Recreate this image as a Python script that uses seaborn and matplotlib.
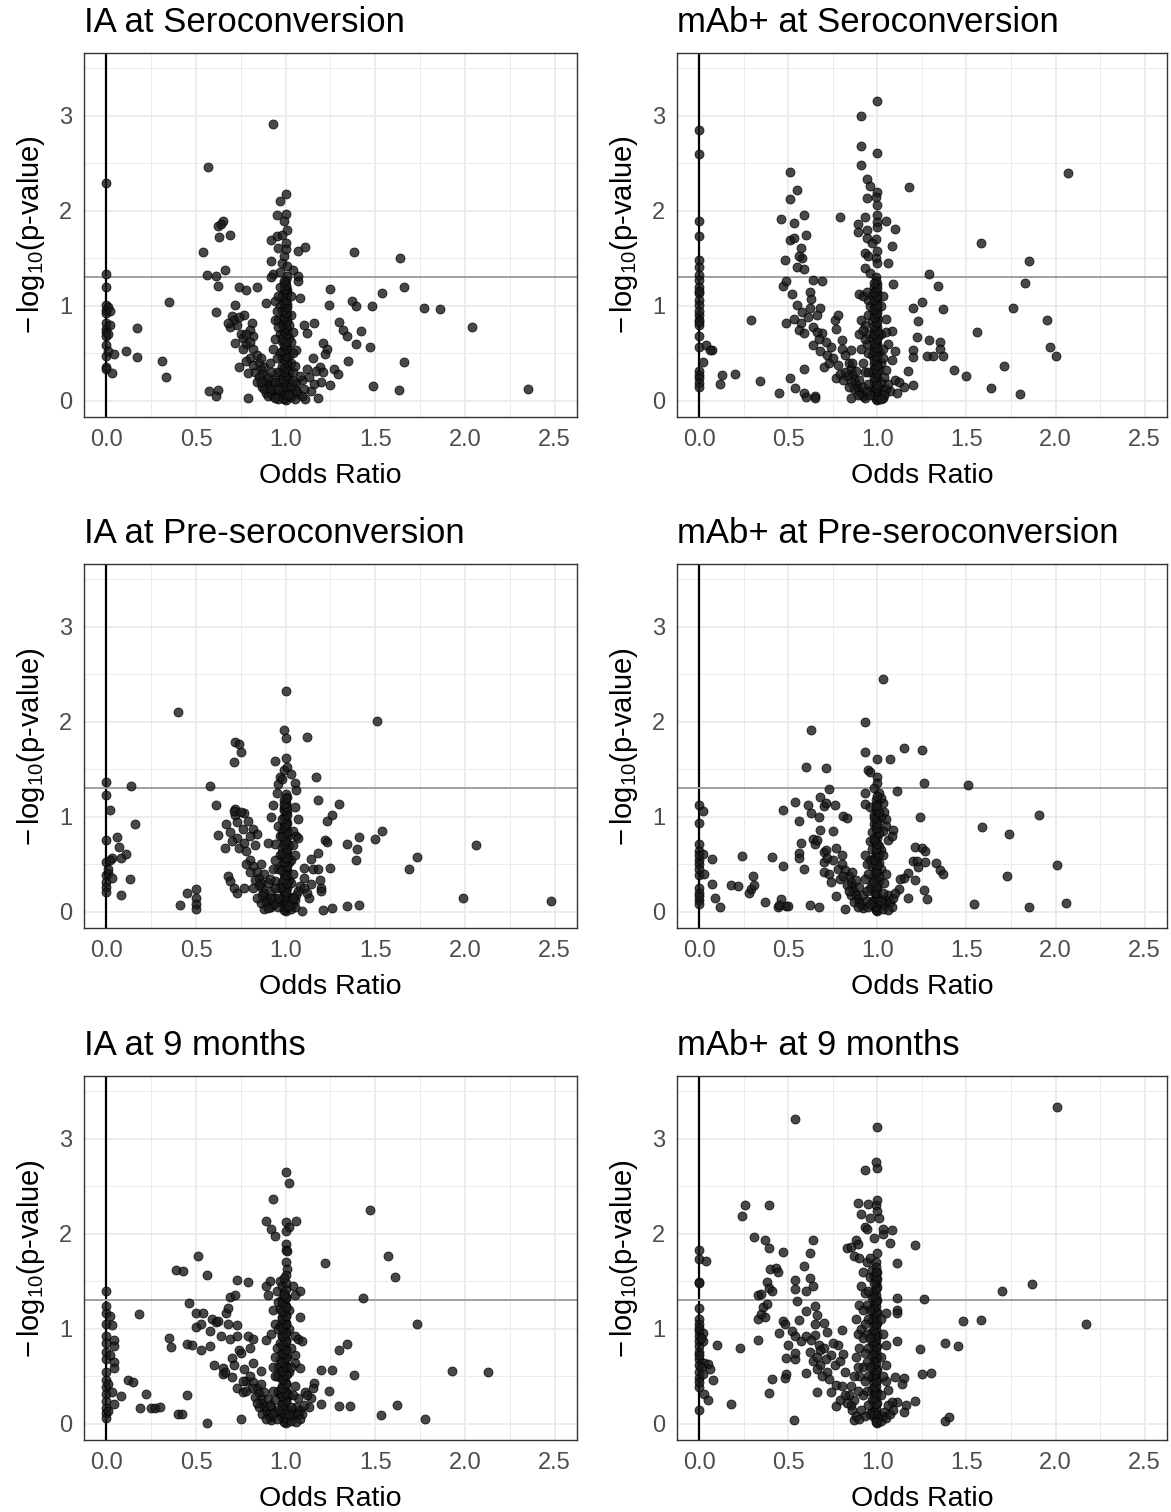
import pandas as pd
import matplotlib.pyplot as plt
import seaborn as sns

# (odds ratio, -log10 p) pairs
ia_sero = [
    (0, 2.29), (0, 1.34), (0, 1.20), (0, 1.01), (0, 0.96), (0, 0.92), (0, 0.82), (0, 0.76), (0, 0.72),
    (0, 0.68), (0, 0.59), (0, 0.47), (0, 0.36), (0, 0.34), (0.01, 0.99), (0.02, 0.80), (0.01, 0.70),
    (0.02, 0.95), (0.01, 0.52), (0.03, 0.29), (0.04, 0.49), (0.11, 0.52), (0.17, 0.77), (0.17, 0.46),
    (0.31, 0.42), (0.33, 0.25), (0.35, 1.04),
    (0.565, 2.46), (0.54, 1.57), (0.56, 1.32), (0.61, 1.31), (0.62, 1.21), (0.61, 0.93), (0.62, 1.84),
    (0.63, 1.72), (0.65, 1.89), (0.64, 1.86), (0.66, 1.38), (0.69, 1.75), (0.57, 0.10), (0.62, 0.11),
    (0.61, 0.05), (0.79, 0.03), (0.74, 1.20), (0.78, 1.17), (0.84, 1.20), (0.89, 1.03), (0.94, 1.05),
    (0.72, 1.01), (0.70, 0.89), (0.77, 0.90), (0.69, 0.78), (0.72, 0.61), (0.74, 0.36), (0.79, 0.29),
    (0.81, 0.82), (0.71, 0.85), (0.73, 0.80), (0.75, 0.70), (0.76, 0.66), (0.78, 0.60), (0.80, 0.75),
    (0.82, 0.68), (0.68, 0.82), (0.74, 0.88),
    (0.93, 2.91), (1.00, 2.18), (0.97, 2.10), (0.95, 1.96), (1.00, 1.97), (0.99, 1.89), (1.01, 1.80),
    (0.92, 1.69), (0.95, 1.73), (0.96, 1.61), (1.00, 1.66), (0.99, 1.52), (1.11, 1.62), (1.07, 1.58),
    (0.92, 1.47), (0.93, 1.34), (0.92, 1.30), (1.04, 1.38), (1.07, 1.31), (1.07, 1.26), (1.08, 1.08),
    (0.98, 1.75), (1.00, 1.60), (0.98, 1.45), (1.01, 1.42), (0.97, 1.36),
    (1.10, 0.80), (1.12, 0.71), (1.16, 0.82), (1.15, 0.45), (1.21, 0.61), (1.23, 0.55), (1.22, 0.49),
    (1.24, 1.01), (1.25, 1.18), (1.30, 0.83), (1.32, 0.75), (1.34, 0.68), (1.35, 0.42), (1.37, 1.05),
    (1.39, 1.00), (1.38, 1.57), (1.39, 0.60), (1.42, 0.73), (1.47, 0.57), (1.48, 1.00), (1.49, 0.16),
    (1.54, 1.13), (1.64, 1.50), (1.66, 1.20), (1.66, 0.41), (1.63, 0.11), (1.77, 0.98), (1.86, 0.97),
    (2.04, 0.78), (2.35, 0.12), (1.18, 0.03), (1.11, 0.02), (1.25, 0.17), (1.20, 0.20), (1.27, 0.33),
    (1.29, 0.28), (1.19, 0.36), (1.17, 0.31), (1.12, 0.33), (1.10, 0.13), (1.06, 0.54), (1.09, 0.22),
    (1.13, 0.25), (1.16, 0.18), (1.21, 0.30), (1.14, 0.10),
    (1.00, 0.01), (0.99, 0.03), (1.01, 0.05), (1.00, 0.08), (0.98, 0.10), (1.02, 0.12), (1.00, 0.15),
    (0.99, 0.18), (1.01, 0.21), (1.00, 0.24), (0.98, 0.27), (1.02, 0.30), (1.00, 0.33), (0.99, 0.36),
    (1.01, 0.39), (1.00, 0.42), (0.98, 0.45), (1.02, 0.48), (1.00, 0.51), (0.99, 0.54), (1.01, 0.57),
    (1.00, 0.60), (0.98, 0.63), (1.02, 0.66), (1.00, 0.69), (0.99, 0.72), (1.01, 0.75), (1.00, 0.78),
    (0.98, 0.81), (1.00, 0.84), (0.99, 0.87), (1.01, 0.90), (1.00, 0.93), (0.99, 0.96), (1.00, 0.99),
    (1.01, 1.02), (0.99, 1.05), (1.00, 1.08), (1.00, 1.11), (0.99, 1.14), (1.01, 1.17), (1.00, 1.20),
    (0.99, 1.23), (1.00, 1.27), (1.01, 1.31), (0.97, 0.50), (0.97, 0.70), (0.97, 0.30), (1.03, 0.40),
    (1.03, 0.62), (0.96, 0.20), (0.96, 0.85), (1.03, 0.90), (0.97, 1.00), (1.02, 0.22),
    (0.99, 0.02), (1.00, 0.06), (0.98, 0.09), (1.01, 0.13), (0.99, 0.16), (1.00, 0.20), (0.98, 0.23),
    (1.01, 0.26), (0.99, 0.30), (1.00, 0.34), (0.98, 0.37), (1.01, 0.41), (0.99, 0.44), (1.00, 0.47),
    (0.98, 0.52), (1.01, 0.55), (0.99, 0.59), (1.00, 0.62), (0.98, 0.66), (1.01, 0.70), (0.99, 0.74),
    (1.00, 0.77), (0.98, 0.80), (1.01, 0.84), (0.99, 0.88), (1.00, 0.92), (0.98, 0.95), (1.01, 0.99),
    (0.99, 1.03), (1.00, 1.06), (0.98, 1.10), (1.01, 1.14), (0.99, 1.18), (1.00, 1.22), (0.99, 1.26),
    (0.80, 0.62), (0.82, 0.55), (0.84, 0.48), (0.85, 0.40), (0.86, 0.33), (0.87, 0.28), (0.88, 0.22),
    (0.89, 0.18), (0.90, 0.14), (0.91, 0.10), (0.92, 0.07), (0.93, 0.05), (0.86, 0.45), (0.88, 0.36),
    (0.90, 0.25), (0.92, 0.18), (0.94, 0.12), (0.83, 0.30), (0.85, 0.25), (0.87, 0.15), (0.89, 0.08),
    (0.78, 0.70), (0.80, 0.45), (0.82, 0.38), (0.84, 0.20), (0.76, 0.55), (0.78, 0.42), (0.95, 0.30),
    (0.95, 0.45), (0.93, 0.55), (0.94, 0.65), (0.96, 0.78), (0.95, 0.95), (0.94, 0.85), (0.96, 1.10),
    (0.97, 1.20), (0.91, 0.40), (0.92, 0.30), (0.93, 0.22), (0.95, 0.05), (0.96, 0.02),
    (0.88, 0.12), (0.90, 0.05), (0.92, 0.12), (0.94, 0.20), (0.94, 0.03), (0.96, 0.12), (0.86, 0.20),
    (1.03, 0.04), (1.04, 0.09), (1.05, 0.14), (1.06, 0.19), (1.07, 0.07), (1.08, 0.26), (1.04, 0.30),
    (1.05, 0.37), (1.04, 0.50), (1.04, 0.72), (1.02, 0.80), (1.03, 1.10), (1.09, 0.05), (1.06, 0.10),
    (1.05, 0.02), (1.03, 0.16), (1.04, 0.21), (1.02, 0.06),
]

mab_sero = [
    (0, 2.85), (0, 2.60), (0, 1.89), (0, 1.73), (0, 1.48), (0, 1.41), (0, 1.32), (0, 1.27), (0, 1.20),
    (0, 1.13), (0, 1.06), (0, 1.01), (0, 0.90), (0, 0.85), (0, 0.80), (0, 0.68), (0, 0.57), (0, 0.31),
    (0, 0.27), (0, 0.24), (0, 0.19), (0, 0.15), (0, 1.16), (0, 0.95), (0, 0.83),
    (0.04, 0.59), (0.07, 0.54), (0.06, 0.53), (0.02, 0.41), (0.13, 0.27), (0.12, 0.18), (0.20, 0.28),
    (0.29, 0.85), (0.34, 0.21), (0.45, 0.08), (0.51, 0.24), (0.54, 0.14), (0.59, 0.08), (0.60, 0.04),
    (0.65, 0.05), (0.65, 0.03),
    (0.46, 1.91), (0.51, 2.41), (0.51, 2.12), (0.55, 2.22), (0.53, 1.87), (0.59, 1.96), (0.51, 1.69),
    (0.53, 1.71), (0.60, 1.75), (0.57, 1.61), (0.48, 1.48), (0.58, 1.50), (0.55, 1.41), (0.59, 1.39),
    (0.56, 1.52), (0.47, 1.21), (0.49, 1.26), (0.52, 1.12), (0.49, 0.82), (0.53, 0.86), (0.55, 1.01),
    (0.58, 0.94), (0.57, 0.82), (0.56, 0.75), (0.59, 0.71), (0.59, 0.33), (0.62, 1.15), (0.63, 1.07),
    (0.62, 0.98), (0.64, 1.27), (0.69, 1.26), (0.68, 0.98), (0.79, 1.94), (0.64, 0.78), (0.69, 0.71),
    (0.64, 0.59), (0.68, 0.52), (0.70, 0.36), (0.74, 0.57), (0.76, 0.85), (0.78, 0.90), (0.77, 0.76),
    (0.80, 0.64), (0.73, 0.40), (0.77, 0.24), (0.85, 0.54), (0.85, 0.03), (0.93, 0.03), (0.66, 0.72),
    (0.67, 0.65), (0.71, 0.62), (0.72, 0.48), (0.75, 0.45), (0.78, 0.38), (0.61, 0.88), (0.66, 0.90),
    (1.00, 3.16), (0.91, 3.00), (0.91, 2.68), (1.00, 2.61), (0.91, 2.48), (0.94, 2.34), (0.96, 2.26),
    (1.18, 2.25), (1.00, 2.20), (0.94, 2.13), (0.99, 2.15), (1.00, 2.06), (2.07, 2.40), (0.93, 1.94),
    (1.00, 1.96), (0.89, 1.86), (0.89, 1.78), (0.94, 1.80), (1.05, 1.89), (1.10, 1.81), (0.94, 1.71),
    (0.99, 1.70), (1.08, 1.63), (0.93, 1.56), (0.99, 1.50), (1.06, 1.45), (0.93, 1.40), (1.00, 1.88),
    (1.00, 1.83), (0.97, 1.66), (1.00, 1.58), (0.95, 1.52), (1.00, 1.45), (0.96, 1.35), (0.99, 1.30),
    (1.58, 1.66), (1.85, 1.47), (1.29, 1.34), (1.83, 1.24), (1.34, 1.21), (1.09, 1.23), (0.90, 1.12),
    (0.95, 1.06), (1.03, 1.10), (1.25, 1.04), (1.20, 0.98), (1.37, 0.97), (1.76, 0.98), (1.05, 0.86),
    (1.23, 0.84), (1.95, 0.85), (1.08, 0.74), (1.56, 0.72), (1.22, 0.67), (1.29, 0.64), (1.35, 0.62),
    (1.35, 0.55), (1.28, 0.47), (1.31, 0.47), (1.37, 0.47), (1.20, 0.54), (1.20, 0.46), (1.97, 0.57),
    (2.00, 0.47), (1.43, 0.32), (1.50, 0.26), (1.71, 0.37), (1.64, 0.14), (1.80, 0.07), (1.17, 0.31),
    (1.20, 0.17), (1.15, 0.15), (1.10, 0.22), (1.10, 0.52), (1.08, 0.43), (1.12, 0.20), (1.07, 0.10),
    (1.11, 0.08),
    (1.00, 0.01), (0.99, 0.03), (0.98, 0.06), (1.00, 0.09), (0.97, 0.12), (1.01, 0.15), (0.99, 0.18),
    (0.98, 0.21), (1.00, 0.24), (0.99, 0.27), (0.97, 0.30), (1.01, 0.33), (0.99, 0.36), (0.98, 0.39),
    (1.00, 0.42), (0.99, 0.45), (0.97, 0.48), (1.01, 0.51), (0.99, 0.54), (0.98, 0.57), (1.00, 0.60),
    (0.99, 0.63), (0.97, 0.66), (1.01, 0.69), (0.99, 0.72), (0.98, 0.75), (1.00, 0.78), (0.99, 0.81),
    (0.97, 0.84), (1.00, 0.87), (0.99, 0.90), (0.98, 0.93), (1.00, 0.96), (0.99, 0.99), (0.98, 1.02),
    (1.00, 1.05), (0.99, 1.08), (0.97, 1.11), (1.00, 1.14), (0.99, 1.17), (0.98, 1.20), (1.00, 1.23),
    (0.99, 1.26), (0.95, 0.50), (0.95, 0.70), (0.95, 0.90), (0.96, 1.00), (0.94, 0.60), (0.93, 0.80),
    (0.92, 1.10), (0.94, 1.15), (1.02, 0.40), (1.02, 0.20), (1.02, 0.70), (1.03, 0.55), (1.02, 1.00),
    (0.99, 0.02), (1.00, 0.05), (0.98, 0.10), (0.99, 0.14), (1.00, 0.17), (0.98, 0.25), (1.00, 0.29),
    (0.98, 0.34), (1.00, 0.38), (0.98, 0.43), (1.00, 0.47), (0.98, 0.52), (1.00, 0.56), (0.98, 0.61),
    (1.00, 0.65), (0.98, 0.70), (1.00, 0.74), (0.98, 0.79), (1.00, 0.83), (0.98, 0.88), (1.00, 0.92),
    (0.98, 0.97), (1.00, 1.01), (0.98, 1.06), (1.00, 1.10), (0.98, 1.15), (1.00, 1.19), (0.98, 1.24),
    (0.80, 0.55), (0.82, 0.48), (0.84, 0.40), (0.85, 0.33), (0.86, 0.28), (0.87, 0.23), (0.88, 0.18),
    (0.89, 0.14), (0.90, 0.10), (0.91, 0.07), (0.92, 0.05), (0.86, 0.40), (0.88, 0.31), (0.90, 0.22),
    (0.92, 0.15), (0.94, 0.10), (0.83, 0.26), (0.85, 0.20), (0.87, 0.12), (0.89, 0.06), (0.82, 0.30),
    (0.84, 0.15), (0.79, 0.28), (0.81, 0.22), (0.93, 0.30), (0.92, 0.40), (0.91, 0.55), (0.93, 0.65),
    (0.90, 0.70), (0.92, 0.75), (0.91, 0.85), (0.95, 0.30), (0.95, 0.18), (0.96, 0.06),
    (1.03, 0.03), (1.04, 0.08), (1.05, 0.13), (1.06, 0.18), (1.04, 0.25), (1.05, 0.32), (1.03, 0.45),
    (1.06, 0.60), (1.05, 0.72), (1.04, 0.06), (1.02, 0.02),
]

ia_pre = [
    (0, 1.37), (0, 1.23), (0, 0.76), (0, 0.52), (0, 0.39), (0, 0.31), (0, 0.26), (0, 0.21), (0.02, 1.07),
    (0.03, 0.57), (0.01, 0.41), (0.03, 0.36), (0.06, 0.79), (0.07, 0.68), (0.08, 0.57), (0.11, 0.61),
    (0.08, 0.18), (0.13, 0.35), (0.14, 1.33), (0.16, 0.92), (0.02, 0.55), (0.01, 0.45),
    (0.40, 2.10), (0.41, 0.07), (0.45, 0.20), (0.50, 0.24), (0.50, 0.15), (0.50, 0.08), (0.50, 0.03),
    (0.58, 1.33), (0.61, 1.12), (0.62, 0.81), (0.67, 0.93), (0.69, 0.84), (0.66, 0.67), (0.68, 0.38),
    (0.69, 0.33), (0.71, 0.25), (0.73, 0.20), (0.77, 0.25), (0.71, 1.58), (0.72, 1.79), (0.74, 1.77),
    (0.75, 1.68), (0.72, 1.08), (0.72, 1.02), (0.77, 1.04), (0.79, 0.96), (0.76, 0.87), (0.73, 0.78),
    (0.70, 0.75), (0.74, 0.67), (0.77, 0.73), (0.78, 0.64), (0.82, 0.87), (0.84, 0.82), (0.94, 0.71),
    (0.94, 1.59), (0.99, 1.91), (1.00, 1.83), (1.00, 2.33), (1.12, 1.84), (1.00, 1.62), (0.99, 1.49),
    (1.01, 1.52), (0.97, 1.42), (1.17, 1.42), (1.05, 1.36), (1.06, 1.28), (1.18, 1.18), (1.30, 1.14),
    (1.26, 1.02), (1.23, 0.96), (1.07, 0.98), (1.51, 2.01), (1.54, 0.85), (1.50, 0.77), (1.41, 0.79),
    (1.40, 0.66), (1.39, 0.55), (1.34, 0.71), (1.22, 0.76), (1.23, 0.74), (1.18, 0.62), (1.14, 0.56),
    (1.15, 0.45), (1.18, 0.45), (1.25, 0.46), (1.19, 0.34), (1.20, 0.25), (1.20, 0.22), (1.14, 0.29),
    (1.13, 0.15), (1.10, 0.46), (1.10, 0.36), (1.09, 0.01), (1.21, 0.02), (1.26, 0.04), (1.34, 0.06),
    (1.41, 0.07), (1.69, 0.45), (1.73, 0.58), (2.06, 0.70), (1.99, 0.15), (2.48, 0.12), (0.94, 0.33),
    (0.88, 0.03), (0.86, 0.09), (0.71, 1.06), (0.75, 1.05), (0.73, 0.95), (0.80, 0.80), (0.83, 0.70),
    (0.90, 0.72), (0.92, 1.00), (0.93, 1.12), (0.95, 1.25), (0.96, 1.35), (0.98, 1.40), (1.03, 1.45),
    (1.05, 1.10), (1.04, 0.85), (1.06, 0.80), (1.07, 0.78),
    (1.00, 0.01), (0.99, 0.04), (1.01, 0.07), (1.00, 0.10), (0.98, 0.13), (1.02, 0.16), (1.00, 0.19),
    (0.99, 0.22), (1.01, 0.25), (1.00, 0.28), (0.98, 0.31), (1.02, 0.34), (1.00, 0.37), (0.99, 0.40),
    (1.01, 0.43), (1.00, 0.46), (0.98, 0.49), (1.02, 0.52), (1.00, 0.55), (0.99, 0.58), (1.01, 0.61),
    (1.00, 0.64), (0.98, 0.67), (1.02, 0.70), (1.00, 0.73), (0.99, 0.76), (1.01, 0.79), (1.00, 0.82),
    (0.98, 0.85), (1.00, 0.88), (0.99, 0.91), (1.01, 0.94), (1.00, 0.97), (0.99, 1.00), (1.00, 1.03),
    (1.01, 1.06), (0.99, 1.09), (1.00, 1.12), (1.00, 1.15), (0.99, 1.18), (1.01, 1.21), (1.00, 1.24),
    (0.97, 0.60), (0.97, 0.80), (0.96, 0.45), (0.97, 0.25), (0.96, 0.90), (1.03, 0.30), (1.03, 0.55),
    (1.03, 0.10),
    (0.99, 0.02), (1.00, 0.05), (0.98, 0.09), (1.01, 0.12), (0.99, 0.17), (1.00, 0.21), (0.98, 0.26),
    (1.01, 0.30), (0.99, 0.35), (1.00, 0.39), (0.98, 0.44), (1.01, 0.48), (0.99, 0.53), (1.00, 0.57),
    (0.98, 0.62), (1.01, 0.66), (0.99, 0.71), (1.00, 0.75), (0.98, 0.80), (1.01, 0.84), (0.99, 0.89),
    (1.00, 0.93), (0.98, 0.98), (1.01, 1.02), (0.99, 1.07), (1.00, 1.10), (0.99, 1.14), (1.00, 1.20),
    (0.80, 0.55), (0.82, 0.48), (0.84, 0.42), (0.85, 0.36), (0.86, 0.30), (0.87, 0.25), (0.88, 0.20),
    (0.89, 0.15), (0.90, 0.11), (0.91, 0.08), (0.92, 0.05), (0.86, 0.50), (0.88, 0.40), (0.90, 0.30),
    (0.92, 0.22), (0.94, 0.15), (0.83, 0.34), (0.85, 0.28), (0.87, 0.18), (0.89, 0.10), (0.78, 0.50),
    (0.80, 0.42), (0.82, 0.25), (0.84, 0.15), (0.93, 0.45), (0.94, 0.55), (0.95, 0.10), (0.96, 0.05),
    (0.91, 0.35), (0.93, 0.08), (0.94, 0.25), (0.96, 0.15), (0.90, 0.04), (0.92, 0.15),
    (1.03, 0.03), (1.04, 0.08), (1.05, 0.13), (1.06, 0.18), (1.07, 0.22), (1.08, 0.27), (1.05, 0.05),
    (1.10, 0.25), (1.12, 0.20), (1.04, 0.40), (1.05, 0.60), (1.04, 0.70), (1.02, 0.06), (1.04, 0.15),
]

mab_pre = [
    (0, 1.12), (0, 0.94), (0, 0.71), (0, 0.64), (0, 0.55), (0, 0.50), (0, 0.39), (0, 0.25), (0, 0.20),
    (0, 0.13), (0, 0.08), (0, 0.60), (0, 0.45), (0, 0.17), (0.02, 1.06), (0.02, 0.61), (0.03, 0.40),
    (0.07, 0.56), (0.07, 0.29), (0.09, 0.15), (0.12, 0.05), (0.18, 0.28), (0.22, 0.27), (0.24, 0.59),
    (0.28, 0.20), (0.29, 0.24), (0.30, 0.38), (0.31, 0.28), (0.37, 0.10), (0.41, 0.58), (0.44, 0.05),
    (0.46, 0.14), (0.47, 0.48), (0.47, 1.07), (0.49, 0.06), (0.45, 0.07), (0.50, 0.06),
    (0.56, 0.62), (0.56, 0.57), (0.59, 0.45), (0.57, 0.73), (0.56, 0.96), (0.54, 1.16), (0.60, 1.53),
    (0.61, 1.13), (0.62, 0.07), (0.67, 0.05), (0.63, 1.04), (0.64, 0.77), (0.65, 0.71), (0.67, 1.00),
    (0.68, 1.21), (0.70, 1.11), (0.71, 1.15), (0.76, 1.13), (0.63, 1.91), (0.71, 1.51), (0.73, 1.29),
    (0.68, 0.86), (0.75, 0.85), (0.70, 0.63), (0.70, 0.52), (0.70, 0.42), (0.72, 0.57), (0.75, 0.55),
    (0.77, 0.67), (0.81, 1.01), (0.83, 0.99), (0.82, 0.03), (0.77, 0.17), (0.66, 0.76), (0.71, 0.65),
    (0.73, 0.40), (0.74, 0.32), (0.78, 0.45), (0.80, 0.60), (0.79, 0.35),
    (0.93, 2.00), (1.03, 2.45), (0.93, 1.68), (1.00, 1.61), (1.07, 1.61), (1.15, 1.73), (1.25, 1.70),
    (0.95, 1.49), (0.96, 1.47), (1.00, 1.42), (1.00, 1.36), (1.26, 1.36), (1.51, 1.34), (1.11, 1.27),
    (0.93, 1.25), (0.93, 1.14), (1.03, 1.15), (1.04, 1.05), (1.05, 0.98), (1.09, 0.86), (1.06, 0.76),
    (1.24, 1.00), (1.91, 1.02), (1.59, 0.89), (1.74, 0.82), (1.21, 0.68), (1.25, 0.67), (1.27, 0.64),
    (1.20, 0.54), (1.22, 0.54), (1.23, 0.47), (1.27, 0.52), (1.33, 0.51), (1.35, 0.44), (1.37, 0.40),
    (1.17, 0.41), (1.15, 0.36), (1.21, 0.34), (1.13, 0.35), (1.12, 0.24), (1.17, 0.15), (1.26, 0.23),
    (1.28, 0.14), (1.73, 0.38), (2.01, 0.49), (1.54, 0.08), (1.85, 0.05), (2.06, 0.09), (1.08, 0.80),
    (1.05, 0.90), (0.98, 1.30), (1.01, 1.25), (0.96, 1.10), (1.02, 1.20),
    (1.00, 0.01), (0.99, 0.03), (0.98, 0.06), (1.00, 0.09), (0.97, 0.12), (1.01, 0.15), (0.99, 0.18),
    (0.98, 0.21), (1.00, 0.24), (0.99, 0.27), (0.97, 0.30), (1.01, 0.33), (0.99, 0.36), (0.98, 0.39),
    (1.00, 0.42), (0.99, 0.45), (0.97, 0.48), (1.01, 0.51), (0.99, 0.54), (0.98, 0.57), (1.00, 0.60),
    (0.99, 0.63), (0.97, 0.66), (1.01, 0.69), (0.99, 0.72), (0.98, 0.75), (1.00, 0.78), (0.99, 0.81),
    (0.97, 0.84), (1.00, 0.87), (0.99, 0.90), (0.98, 0.93), (1.00, 0.96), (0.99, 0.99), (0.98, 1.02),
    (1.00, 1.05), (0.99, 1.08), (1.00, 1.14), (0.99, 1.18), (1.00, 1.22), (0.96, 0.55), (0.96, 0.75),
    (0.95, 0.40), (0.96, 0.25), (1.02, 0.45), (1.02, 0.65), (1.03, 0.85), (1.02, 1.00),
    (0.99, 0.02), (1.00, 0.05), (0.98, 0.10), (1.01, 0.13), (0.99, 0.20), (1.00, 0.26), (0.98, 0.32),
    (1.01, 0.38), (0.99, 0.43), (1.00, 0.49), (0.98, 0.55), (1.01, 0.60), (0.99, 0.66), (1.00, 0.71),
    (0.98, 0.77), (1.01, 0.83), (0.99, 0.88), (1.00, 0.94), (0.98, 0.99), (1.01, 1.05), (0.99, 1.11),
    (0.80, 0.50), (0.82, 0.44), (0.84, 0.38), (0.85, 0.32), (0.86, 0.27), (0.87, 0.22), (0.88, 0.18),
    (0.89, 0.14), (0.90, 0.10), (0.91, 0.07), (0.92, 0.04), (0.86, 0.42), (0.88, 0.34), (0.90, 0.26),
    (0.92, 0.18), (0.94, 0.12), (0.83, 0.28), (0.85, 0.18), (0.87, 0.10), (0.89, 0.05), (0.81, 0.38),
    (0.84, 0.22), (0.93, 0.35), (0.94, 0.50), (0.95, 0.05), (0.93, 0.60), (0.94, 0.22), (0.96, 0.08),
    (1.03, 0.03), (1.04, 0.08), (1.05, 0.13), (1.06, 0.18), (1.07, 0.10), (1.08, 0.05), (1.04, 0.30),
    (1.05, 0.40), (1.09, 0.15), (1.10, 0.20), (1.03, 0.60), (1.06, 0.02), (1.02, 0.12), (1.03, 0.20),
]

ia_9m = [
    (0, 1.40), (0, 1.24), (0, 1.17), (0, 1.05), (0, 0.92), (0, 0.85), (0, 0.76), (0, 0.68), (0, 0.55),
    (0, 0.46), (0, 0.39), (0, 0.31), (0, 0.24), (0, 0.17), (0, 0.11), (0, 0.06), (0.02, 1.13),
    (0.03, 1.04), (0.04, 0.88), (0.04, 0.82), (0.04, 0.65), (0.04, 0.59), (0.03, 0.34), (0.04, 0.21),
    (0.01, 0.42), (0.01, 0.14), (0.02, 0.72),
    (0.08, 0.29), (0.12, 0.46), (0.15, 0.44), (0.18, 1.16), (0.19, 0.17), (0.22, 0.31), (0.25, 0.17),
    (0.27, 0.17), (0.30, 0.18), (0.35, 0.90), (0.36, 0.81), (0.39, 1.62), (0.43, 1.61), (0.40, 0.10),
    (0.42, 0.10), (0.45, 0.84), (0.45, 0.30), (0.46, 1.27), (0.48, 0.83), (0.51, 1.77), (0.50, 1.17),
    (0.50, 1.02), (0.53, 1.05), (0.54, 1.17), (0.53, 0.78), (0.56, 1.57), (0.58, 0.82), (0.56, 0.01),
    (0.58, 0.98), (0.59, 1.10), (0.61, 1.07), (0.62, 1.08), (0.60, 0.62), (0.64, 0.92), (0.65, 0.59),
    (0.65, 0.52), (0.67, 1.17), (0.68, 1.22), (0.68, 1.05), (0.69, 1.33), (0.72, 1.36), (0.73, 1.51),
    (0.79, 1.49), (0.69, 0.89), (0.70, 0.69), (0.70, 0.49), (0.73, 1.04), (0.73, 0.92), (0.74, 0.78),
    (0.75, 0.75), (0.73, 0.38), (0.76, 0.34), (0.75, 0.05), (0.79, 0.92), (0.80, 0.80), (0.82, 0.89),
    (0.82, 0.64), (0.86, 0.56), (0.89, 0.88), (0.66, 0.55), (0.71, 0.62), (0.77, 0.58), (0.78, 0.45),
    (0.89, 2.14), (0.92, 2.05), (0.94, 1.98), (0.93, 2.37), (1.00, 2.65), (1.02, 2.53), (1.00, 2.12),
    (1.02, 2.07), (1.06, 2.14), (1.00, 2.03), (1.00, 1.89), (1.00, 1.83), (1.01, 1.82), (1.00, 1.70),
    (1.01, 1.63), (1.00, 1.57), (0.97, 1.50), (0.91, 1.50), (0.89, 1.45), (0.90, 1.36), (1.04, 1.45),
    (1.08, 1.40), (1.05, 1.36), (1.22, 1.69), (1.47, 2.25), (1.43, 1.32), (1.57, 1.77), (1.61, 1.55),
    (1.73, 1.05), (1.08, 1.12), (1.05, 0.92), (1.07, 0.89), (1.09, 0.87), (1.05, 0.64), (1.08, 0.59),
    (1.05, 0.73), (1.34, 0.84), (1.30, 0.78), (1.20, 0.57), (1.26, 0.57), (1.38, 0.51), (1.93, 0.56),
    (2.13, 0.55), (1.16, 0.43), (1.15, 0.38), (1.24, 0.35), (1.11, 0.34), (1.14, 0.27), (1.07, 0.27),
    (1.13, 0.18), (1.20, 0.21), (1.30, 0.19), (1.36, 0.19), (1.53, 0.09), (1.62, 0.20), (1.78, 0.05),
    (1.08, 0.15), (1.09, 0.10), (0.95, 1.40), (0.96, 1.28), (0.98, 1.45), (0.93, 1.20), (0.94, 1.05),
    (0.92, 0.95),
    (1.00, 0.01), (0.99, 0.04), (0.98, 0.07), (1.00, 0.10), (0.97, 0.13), (1.01, 0.16), (0.99, 0.19),
    (0.98, 0.22), (1.00, 0.25), (0.99, 0.28), (0.97, 0.31), (1.01, 0.34), (0.99, 0.37), (0.98, 0.40),
    (1.00, 0.43), (0.99, 0.46), (0.97, 0.49), (1.01, 0.52), (0.99, 0.55), (0.98, 0.58), (1.00, 0.61),
    (0.99, 0.64), (0.97, 0.67), (1.01, 0.70), (0.99, 0.73), (0.98, 0.76), (1.00, 0.79), (0.99, 0.82),
    (0.97, 0.85), (1.00, 0.88), (0.99, 0.91), (0.98, 0.94), (1.00, 0.97), (0.99, 1.00), (0.97, 1.03),
    (1.00, 1.06), (0.99, 1.09), (0.98, 1.12), (1.00, 1.15), (0.99, 1.18), (0.97, 1.21), (1.00, 1.24),
    (0.99, 1.27), (0.98, 1.31), (1.00, 1.34), (0.99, 1.38), (1.00, 1.42), (0.96, 0.60), (0.95, 0.80),
    (0.96, 1.00), (0.95, 0.50), (0.94, 0.70), (0.96, 0.35), (1.02, 0.30), (1.02, 0.55), (1.03, 0.80),
    (1.02, 1.00), (1.02, 1.20),
    (0.99, 0.02), (1.00, 0.06), (0.98, 0.11), (1.00, 0.15), (0.98, 0.20), (1.00, 0.24), (0.98, 0.29),
    (1.00, 0.33), (0.98, 0.38), (1.00, 0.42), (0.98, 0.47), (1.00, 0.51), (0.98, 0.56), (1.00, 0.60),
    (0.98, 0.65), (1.00, 0.69), (0.98, 0.74), (1.00, 0.78), (0.98, 0.83), (1.00, 0.87), (0.98, 0.92),
    (1.00, 0.96), (0.98, 1.01), (1.00, 1.05), (0.98, 1.10), (1.00, 1.14), (0.98, 1.19), (1.00, 1.23),
    (0.98, 1.28), (1.00, 1.32), (0.99, 1.36), (1.00, 1.48), (0.99, 1.53),
    (0.80, 0.50), (0.82, 0.44), (0.84, 0.38), (0.85, 0.32), (0.86, 0.27), (0.87, 0.22), (0.88, 0.18),
    (0.89, 0.14), (0.90, 0.10), (0.91, 0.07), (0.92, 0.04), (0.86, 0.42), (0.88, 0.34), (0.90, 0.26),
    (0.92, 0.18), (0.94, 0.12), (0.83, 0.28), (0.85, 0.18), (0.87, 0.10), (0.89, 0.05), (0.81, 0.38),
    (0.84, 0.22), (0.93, 0.35), (0.94, 0.50), (0.95, 0.05), (0.93, 0.60), (0.78, 0.35), (0.76, 0.45),
    (0.94, 0.25), (0.96, 0.15), (0.93, 0.10), (0.91, 0.20),
    (1.03, 0.03), (1.04, 0.08), (1.05, 0.13), (1.06, 0.18), (1.07, 0.10), (1.08, 0.05), (1.04, 0.30),
    (1.05, 0.40), (1.10, 0.20), (1.03, 0.60), (1.06, 0.02), (1.12, 0.30), (1.02, 0.10), (1.03, 0.18),
]

mab_9m = [
    (0, 1.83), (0, 1.74), (0, 1.49), (0, 1.22), (0, 1.10), (0, 1.05), (0, 0.98), (0, 0.92), (0, 0.87),
    (0, 0.82), (0, 0.76), (0, 0.68), (0, 0.62), (0, 0.55), (0, 0.48), (0, 0.39), (0, 0.15), (0, 1.48),
    (0, 1.01), (0, 0.72), (0, 0.44), (0.04, 1.71), (0.02, 0.96), (0.02, 0.87), (0.03, 0.64),
    (0.05, 0.63), (0.06, 0.58), (0.08, 0.46), (0.03, 0.31), (0.05, 0.25), (0.10, 0.83), (0.01, 0.90),
    (0.01, 0.60), (0.02, 0.52), (0.18, 0.21), (0.23, 0.80),
    (0.24, 2.19), (0.26, 2.30), (0.31, 1.97), (0.33, 1.36), (0.33, 1.10), (0.33, 0.88), (0.35, 1.16),
    (0.37, 1.93), (0.39, 2.30), (0.39, 1.85), (0.40, 1.63), (0.43, 1.64), (0.44, 1.60), (0.38, 1.49),
    (0.39, 1.43), (0.41, 1.40), (0.35, 1.37), (0.36, 1.23), (0.38, 1.26), (0.37, 1.12), (0.45, 0.96),
    (0.47, 1.81), (0.47, 1.08), (0.48, 1.05), (0.50, 0.83), (0.49, 0.69), (0.49, 0.52), (0.48, 0.48),
    (0.41, 0.47), (0.39, 0.32), (0.52, 0.98), (0.54, 0.92), (0.53, 0.04), (0.54, 0.68), (0.54, 0.75),
    (0.57, 0.87), (0.55, 1.29), (0.54, 1.51), (0.54, 1.42), (0.56, 1.09), (0.60, 0.54), (0.60, 1.40),
    (0.59, 1.66), (0.62, 1.80), (0.62, 1.54), (0.64, 1.45), (0.64, 1.93), (0.65, 1.24), (0.60, 1.19),
    (0.66, 1.15), (0.60, 0.92), (0.65, 1.05), (0.65, 0.94), (0.62, 0.76), (0.64, 0.66), (0.66, 0.34),
    (0.67, 0.83), (0.68, 0.78), (0.70, 1.06), (0.72, 0.97), (0.68, 0.62), (0.72, 0.55), (0.73, 0.47),
    (0.74, 0.73), (0.76, 0.62), (0.77, 0.19), (0.78, 0.83), (0.79, 0.66), (0.80, 0.99), (0.74, 0.34),
    (0.77, 0.41), (0.85, 0.20), (0.87, 0.04), (0.63, 0.88), (0.66, 0.70), (0.69, 0.50), (0.71, 0.68),
    (0.75, 0.85), (0.81, 0.74), (0.82, 0.55), (0.70, 0.80), (0.66, 0.58),
    (0.83, 1.85), (0.85, 1.86), (0.89, 2.32), (0.91, 2.21), (0.95, 2.31), (0.96, 2.17), (0.93, 2.07),
    (0.94, 2.05), (0.99, 2.30), (1.00, 2.36), (1.00, 2.24), (1.01, 2.17), (1.03, 2.00), (1.03, 2.05),
    (0.98, 1.96), (1.07, 1.90), (1.08, 2.04), (0.88, 1.93), (0.89, 1.89), (0.87, 1.77), (1.00, 2.69),
    (0.99, 2.76), (0.93, 2.67), (1.00, 3.12), (0.54, 3.21), (2.01, 3.33), (1.21, 1.88), (1.11, 1.69),
    (1.26, 1.31), (1.11, 1.32), (1.11, 1.20), (1.05, 1.17), (1.11, 1.17), (1.70, 1.40), (1.87, 1.47),
    (1.48, 1.08), (1.58, 1.09), (2.17, 1.05), (1.11, 0.87), (1.05, 0.83), (1.38, 0.85), (1.45, 0.82),
    (1.24, 0.79), (1.05, 0.62), (1.05, 0.45), (1.10, 0.49), (1.15, 0.48), (1.14, 0.42), (1.25, 0.52),
    (1.30, 0.54), (1.06, 0.36), (1.11, 0.23), (1.21, 0.24), (1.16, 0.20), (1.15, 0.13), (1.08, 0.23),
    (1.38, 0.03), (1.40, 0.07), (0.90, 1.75), (0.92, 1.60), (0.94, 1.70), (0.91, 1.45), (0.93, 1.38),
    (0.96, 1.55), (0.90, 1.25), (0.88, 1.10), (0.89, 0.95), (0.90, 0.80), (0.88, 0.70), (0.91, 1.00),
    (0.96, 1.75), (0.97, 1.62), (1.00, 1.80), (0.99, 1.70),
    (1.00, 0.01), (0.99, 0.04), (0.98, 0.07), (1.00, 0.10), (0.97, 0.13), (0.99, 0.16), (0.98, 0.19),
    (1.00, 0.22), (0.97, 0.25), (0.99, 0.28), (0.98, 0.31), (1.00, 0.34), (0.97, 0.37), (0.99, 0.40),
    (0.98, 0.43), (1.00, 0.46), (0.97, 0.49), (0.99, 0.52), (0.98, 0.55), (1.00, 0.58), (0.97, 0.61),
    (0.99, 0.64), (0.98, 0.67), (1.00, 0.70), (0.97, 0.73), (0.99, 0.76), (0.98, 0.79), (1.00, 0.82),
    (0.97, 0.85), (0.99, 0.88), (0.98, 0.91), (1.00, 0.94), (0.97, 0.97), (0.99, 1.00), (0.98, 1.03),
    (1.00, 1.06), (0.97, 1.09), (0.99, 1.12), (0.98, 1.15), (1.00, 1.18), (0.97, 1.21), (0.99, 1.24),
    (0.98, 1.27), (1.00, 1.30), (0.97, 1.33), (0.99, 1.36), (0.98, 1.40), (1.00, 1.44), (0.99, 1.48),
    (1.00, 1.52), (0.98, 1.56), (1.00, 1.60), (0.99, 1.65),
    (0.99, 0.02), (0.98, 0.12), (0.99, 0.21), (0.98, 0.27), (0.99, 0.33), (0.98, 0.39), (0.99, 0.45),
    (0.98, 0.51), (0.99, 0.57), (0.98, 0.63), (0.99, 0.69), (0.98, 0.75), (0.99, 0.81), (0.98, 0.87),
    (0.99, 0.93), (0.98, 0.99), (0.99, 1.05), (0.98, 1.11), (0.99, 1.17), (0.98, 1.23), (0.99, 1.29),
    (0.98, 1.35), (0.99, 1.42), (0.98, 1.48), (0.99, 1.55), (0.99, 1.60),
    (0.95, 0.20), (0.94, 0.35), (0.95, 0.50), (0.94, 0.65), (0.95, 0.80), (0.94, 0.95), (0.95, 1.10),
    (0.94, 1.25), (0.95, 1.40), (0.93, 0.45), (0.93, 0.75), (0.93, 1.05), (0.92, 0.30), (0.92, 0.60),
    (0.92, 0.90), (0.92, 1.20), (0.91, 0.15), (0.90, 0.50), (0.96, 0.10), (0.96, 0.60), (0.96, 0.90),
    (0.96, 1.20), (0.89, 0.35), (0.89, 0.60), (0.87, 0.50), (0.87, 0.25), (0.85, 0.40), (0.84, 0.30),
    (0.83, 0.22), (0.86, 0.15), (0.88, 0.08), (0.80, 0.40), (0.82, 0.30), (0.79, 0.25), (0.90, 0.05),
    (0.93, 0.08),
    (1.02, 0.03), (1.03, 0.08), (1.04, 0.12), (1.05, 0.06), (1.02, 0.30), (1.03, 0.50), (1.02, 0.70),
    (1.03, 0.95), (1.02, 1.10), (1.06, 0.20), (1.07, 0.10), (1.09, 0.15),
]

titles = ["IA at Seroconversion", "mAb+ at Seroconversion",
          "IA at Pre-seroconversion", "mAb+ at Pre-seroconversion",
          "IA at 9 months", "mAb+ at 9 months"]
panel_data = [ia_sero, mab_sero, ia_pre, mab_pre, ia_9m, mab_9m]
x_ticks = [0.0, 0.5, 1.0, 1.5, 2.0, 2.5]
x_tick_labels = ["0.0", "0.5", "1.0", "1.5", "2.0", "2.5"]
y_ticks = [0, 1, 2, 3]
y_tick_labels = ["0", "1", "2", "3"]

sns.set_style("white")
plt.rcParams['font.family'] = ['Liberation Sans', 'DejaVu Sans']
plt.rcParams['mathtext.fontset'] = 'custom'
plt.rcParams['mathtext.rm'] = 'Liberation Sans'
plt.rcParams['mathtext.it'] = 'Liberation Sans:italic'
plt.rcParams['mathtext.bf'] = 'Liberation Sans:bold'

fig = plt.figure(figsize=(11.71, 15.12), dpi=100)
lefts = [0.0717, 0.578]
widths = [0.421, 0.4185]
bottoms = [0.7242, 0.3862, 0.0476]
height = 0.2407

for i, (title, pts) in enumerate(zip(titles, panel_data)):
    r, c = divmod(i, 2)
    ax = fig.add_axes([lefts[c], bottoms[r], widths[c], height])
    df = pd.DataFrame(pts, columns=['OR', 'logp'])

    ax.set_axisbelow(True)
    ax.axvline(0, color='black', lw=1.6, zorder=2)
    ax.axhline(1.30, color='#a0a0a0', lw=1.4, zorder=2)
    sns.scatterplot(data=df, x='OR', y='logp', ax=ax, color='#1a1a1a', alpha=0.8,
                    s=42, edgecolor='black', linewidth=0.6, zorder=3, legend=False)

    ax.set_xlim(-0.125, 2.625)
    ax.set_ylim(-0.17, 3.66)
    ax.set_xticks(x_ticks)
    ax.set_xticklabels(x_tick_labels)
    ax.set_yticks(y_ticks)
    ax.set_yticklabels(y_tick_labels)
    ax.set_xticks([0.25, 0.75, 1.25, 1.75, 2.25], minor=True)
    ax.set_yticks([0.5, 1.5, 2.5, 3.5], minor=True)
    ax.grid(which='major', color='#ebebeb', lw=1.3)
    ax.grid(which='minor', color='#ebebeb', lw=0.7)
    ax.tick_params(which='major', length=4.3, width=0.9, color='#333333',
                   labelcolor='#4d4d4d', labelsize=17, pad=4)
    ax.tick_params(which='minor', length=0)
    for sp in ax.spines.values():
        sp.set_color('#333333')
        sp.set_linewidth(1.0)

    ax.set_title(title, loc='left', fontsize=25, pad=15, color='black')
    ax.set_xlabel('Odds Ratio', fontsize=20.5, labelpad=9, color='black')
    ax.set_ylabel(r'$-\,\mathrm{log}_{10}\left(\text{p-value}\right)$', fontsize=21,
                  labelpad=9, color='black')

fig.savefig('out.png', dpi=100)
